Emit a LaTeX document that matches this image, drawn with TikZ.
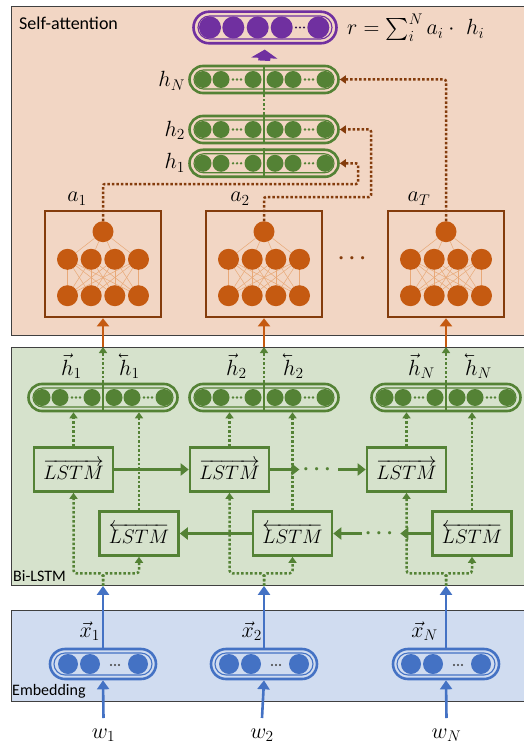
\RequirePackage{fix-cm}
\documentclass[tikz,border=0pt]{standalone}
\usepackage{amsmath, amssymb}
\usepackage{fontspec}
\setsansfont{Carlito}
\usepackage{xcolor}
\usepackage{tikz}
\usetikzlibrary{arrows.meta, positioning}

\definecolor{attfill}{HTML}{F2D6C4}
\definecolor{lstmfill}{HTML}{D6E2CC}
\definecolor{embfill}{HTML}{D0DCF0}
\definecolor{lstmgreen}{HTML}{548235}
\definecolor{nnorange}{HTML}{C55A11}
\definecolor{nnbrown}{HTML}{843C0C}
\definecolor{nnline}{HTML}{E8A877}
\definecolor{outpurple}{HTML}{7030A0}
\definecolor{embblue}{HTML}{4472C4}

% left-pointing vector accent, same size as \vec
\newcommand{\lvec}[1]{\reflectbox{$\vec{\reflectbox{$#1$}}$}}

\begin{document}
\begin{tikzpicture}[x=1pt, y=-1pt,
  every node/.style={font=\fontsize{22}{25}\selectfont},
  panel/.style={draw=black!75, line width=0.9pt, inner sep=0pt, anchor=north west, minimum width=520pt},
  paneltext/.style={anchor=base west, inner sep=0pt, font=\sffamily\fontsize{16}{19}\selectfont},
  hcap/.style={draw=lstmgreen, line width=2.6pt, rounded corners=13.5pt, minimum width=149pt, minimum height=27pt, inner sep=0pt},
  hcapin/.style={draw=lstmgreen, line width=1.1pt, rounded corners=9.5pt, minimum width=140pt, minimum height=19pt, inner sep=0pt},
  hdiv/.style={lstmgreen, line width=1.6pt},
  ecap/.style={draw=embblue, line width=2.6pt, rounded corners=15pt, minimum width=106pt, minimum height=30pt, inner sep=0pt},
  ecapin/.style={draw=embblue, line width=1.1pt, rounded corners=11pt, minimum width=98pt, minimum height=22pt, inner sep=0pt},
  rcap/.style={draw=outpurple, line width=2.6pt, rounded corners=15.8pt, minimum width=143pt, minimum height=31.6pt, inner sep=0pt},
  rcapin/.style={draw=outpurple, line width=1.1pt, rounded corners=11.5pt, minimum width=134pt, minimum height=23pt, inner sep=0pt},
  nnbox/.style={draw=nnbrown, line width=2.6pt, minimum width=116pt, minimum height=106pt, inner sep=0pt},
  neuron/.style={circle, fill=nnorange, minimum size=21pt, inner sep=0pt},
  nnlink/.style={nnline, line width=0.5pt},
  lstmbox/.style={draw=lstmgreen, line width=2.6pt, minimum width=79pt, minimum height=44pt, inner sep=0pt, font=\fontsize{19.5}{22}\selectfont},
  bolddots/.style={inner sep=3pt, font=\fontsize{21}{23}\selectfont\boldmath},
  gdots/.style={bolddots, text=lstmgreen},
  garrow/.style={lstmgreen, line width=2.6pt, -{Triangle[width=12pt,length=8pt]}},
  gdotline/.style={lstmgreen, line width=2.5pt, dash pattern=on 2.5pt off 2pt},
  gdot/.style={gdotline, -{Triangle[width=8pt,length=6pt]}},
  bdot/.style={nnbrown, line width=2.5pt, dash pattern=on 2.5pt off 2pt, rounded corners=2pt, -{Triangle[width=8pt,length=6pt]}},
  oarrow/.style={nnorange, line width=2.6pt, -{Triangle[width=12pt,length=8pt]}},
  barrow/.style={embblue, line width=2.6pt, -{Triangle[width=12pt,length=9pt]}},
  parrow/.style={outpurple, line width=12pt, -{Triangle[width=26pt,length=8.5pt]}, shorten <=4pt, shorten >=5pt},
  lab/.style={inner sep=0pt}]
  \useasboundingbox (0,0) rectangle (523,746);
  %% the three layers
  \node[panel, fill=attfill, minimum height=329pt] (attpanel) at (11,6) {};
  \node[panel, fill=lstmfill, minimum height=238pt] (lstmpanel) at (11,347) {};
  \node[panel, fill=embfill, minimum height=91pt] (embpanel) at (11,610) {};
  \node[paneltext, font=\sffamily\fontsize{18}{21}\selectfont] (attlab) at (19,29.3) {Self-attention};
  \node[paneltext] (lstmlab) at (13,581.5) {Bi-LSTM};
  \node[paneltext] (emblab) at (12,695.5) {Embedding};
  %% embedding: words to vectors
  \foreach \n/\cx/\wx/\xx/\s in {1/103/103.5/100/1, 2/264/262/262/2, 3/446/446.5/438/N} {
    \node[ecap] (e\n) at (\cx,664) {};
    \node[ecapin] (e\n-in) at (\cx,664) {};
    \foreach \dx in {-35,-13,35} \fill[embblue] (\cx+\dx,664) circle (10pt);
    \foreach \dd in {-4,0,4} \fill[black!75] (\cx+12+\dd,665) circle (1.2pt);
    \node[lab, anchor=base] (w\n) at (\wx,738) {$w_\s$};
    \node[lab, anchor=base east] (x\n) at (\xx,637) {$\vec{x}_\s$};
    \coordinate (in\n) at (e\n.north |- lstmpanel.south);
    \draw[barrow] ([yshift=20pt]w\n.base) -- (e\n.south);
    \draw[barrow] (e\n.north) -- (in\n);
  }
  %% Bi-LSTM cells
  \node[lstmbox] (f1) at (73.5,469.5) {$\overrightarrow{LSTM}$};
  \node[lstmbox] (f2) at (229.5,469.5) {$\overrightarrow{LSTM}$};
  \node[lstmbox] (f3) at (406.5,469.5) {$\overrightarrow{LSTM}$};
  \node[lstmbox] (b1) at (139,533.5) {$\overleftarrow{LSTM}$};
  \node[lstmbox] (b2) at (292.5,533.5) {$\overleftarrow{LSTM}$};
  \node[lstmbox] (b3) at (472,533.5) {$\overleftarrow{LSTM}$};
  \node[gdots] (fdots) at (318.7,469.5) {$\cdots$};
  \node[gdots] (bdots) at (381,533.5) {$\cdots$};
  \draw[garrow] (f1) -- (f2);
  \draw[garrow] (f2) -- (fdots);
  \draw[garrow] (fdots) -- (f3);
  \draw[garrow] (b3) -- (bdots);
  \draw[garrow] (bdots) -- (b2);
  \draw[garrow] (b2) -- (b1);
  %% hidden states, forward and backward halves
  \foreach \n/\cx/\cy in {hN/264/79.5, h2/264/129.5, h1/264/163.3, hb1/103/397.5, hb2/264/397.5, hb3/446/397.5} {
    \node[hcap] (\n) at (\cx,\cy) {};
    \node[hcapin] (\n-in) at (\cx,\cy) {};
    \draw[hdiv] (\n.north) -- (\n.south);
    \foreach \dx in {-61,-43,-11,11,29,61} \fill[lstmgreen] (\cx+\dx,\cy) circle (8.5pt);
    \foreach \dx in {-27,45} \foreach \dd in {-4,0,4} \fill[lstmgreen] (\cx+\dx+\dd,\cy) circle (1.3pt);
  }
  \foreach \n/\s/\lx/\rx in {1/1/61/119, 2/2/226/283, 3/N/408/465} {
    \node[lab, anchor=base west] (hf\n-lab) at (\lx,375) {$\vec{h}_\s$};
    \node[lab, anchor=base west] (hb\n-lab) at (\rx,375) {$\lvec{h}_\s$};
    \draw[gdot] (f\n.north) -- (f\n.north |- hb\n.south);
    \draw[gdot] (b\n.north) -- (b\n.north |- hb\n.south);
    \draw[gdot] (hb\n.north) -- (hb\n.north |- lstmpanel.north);
    \coordinate (j\n) at ([yshift=12.5pt]in\n);
    \draw[gdot, rounded corners=3pt] (in\n) -- (j\n) -| (f\n.south);
    \draw[gdot, rounded corners=3pt] (in\n) -- (j\n) -| (b\n.south);
  }
  %% attention scorers
  \foreach \b/\cx/\ax/\s in {1/103/77/1, 2/264/240/2, 3/446/419/T} {
    \node[nnbox] (nn\b) at (\cx,264) {};
    \node[neuron] (t\b) at (\cx,231.7) {};
    \foreach \i/\dx in {1/-35.5, 2/-11.8, 3/11.8, 4/35.5} {
      \node[neuron] (m\b-\i) at (\cx+\dx,259.3) {};
      \node[neuron] (d\b-\i) at (\cx+\dx,295.7) {};
    }
    \foreach \i in {1,...,4} {
      \draw[nnlink] (t\b) -- (m\b-\i);
      \foreach \j in {1,...,4} \draw[nnlink] (m\b-\i) -- (d\b-\j);
    }
    \node[lab, anchor=base] (a\b-lab) at (\ax,201.7) {$a_\s$};
    \draw[oarrow] (nn\b.south |- lstmpanel.north) -- (nn\b.south);
  }
  \node[bolddots, text=nnbrown] (nndots) at (354,259) {$\cdots$};
  %% weights into the stacked states
  \node[lab, anchor=base east] (hN-lab) at ([xshift=-3pt,yshift=-7.5pt]hN.west) {$h_N$};
  \node[lab, anchor=base east] (h2-lab) at ([xshift=-3pt,yshift=-7pt]h2.west) {$h_2$};
  \node[lab, anchor=base east] (h1-lab) at ([xshift=-3pt,yshift=-5.5pt]h1.west) {$h_1$};
  \draw[gdotline] (h2.north) -- (hN.south);
  \draw[bdot] (t1.north) |- (358,184) |- (h1.east);
  \draw[bdot] (t2.north) |- (371,197) |- (h2.east);
  \draw[bdot] (t3.north) |- (hN.east);
  %% sentence vector
  \node[rcap] (rvec) at (265,27.5) {};
  \node[rcapin] (rvec-in) at (265,27.5) {};
  \foreach \dx in {-55,-31.7,-7.3,16.7,53.3} \fill[outpurple] (265+\dx,27.5) circle (11pt);
  \foreach \dd in {-4,0,4} \fill[outpurple!50!black] (300+\dd,27.5) circle (1.2pt);
  \draw[parrow] (hN.north) -- (rvec.south);
  \node[lab, anchor=base west] (rlab) at (347,35) {$r = \sum_i^N a_i \cdot\ h_i$};
\end{tikzpicture}
\end{document}
